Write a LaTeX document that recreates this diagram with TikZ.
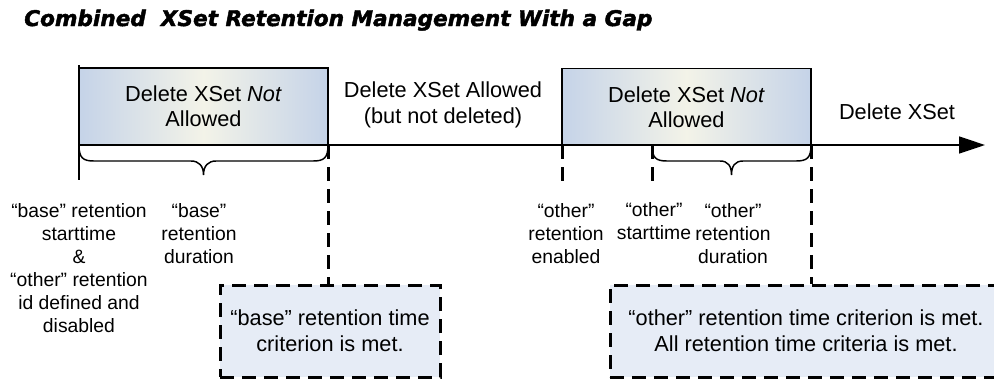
\documentclass[tikz,border=0pt]{standalone}
\usepackage{fontspec}
\setmainfont{Liberation Sans}
\newfontfamily\titlefont{DejaVu Sans}[BoldItalicFeatures={FakeBold=2}]
\usetikzlibrary{arrows.meta}
\definecolor{boxblue}{HTML}{C5D3E8}
\definecolor{boxcream}{HTML}{F3F3E8}
\definecolor{dbfill}{HTML}{E6ECF6}
\tikzset{
  tl/.style={line width=1.1pt},
  dashv/.style={line width=2.25pt, dash pattern=on 10.5pt off 6pt},
  nabox/.style={draw, line width=1.1pt, left color=boxblue, right color=boxblue, middle color=boxcream,
    minimum width=186.75pt, minimum height=57.75pt, inner sep=0pt, align=center,
    font=\fontsize{16.3}{18.75}\selectfont},
  critbox/.style={draw, dashv, fill=dbfill, inner sep=0pt, align=center,
    font=\fontsize{16.3}{19.5}\selectfont},
  toplbl/.style={align=center, inner sep=0pt, font=\fontsize{16.3}{19}\selectfont},
  smalllbl/.style={align=center, inner sep=0pt, font=\fontsize{14.5}{17.25}\selectfont},
  bracep/.style={line width=1.1pt}
}
\begin{document}
\begin{tikzpicture}[x=0.75pt,y=-0.75pt]
\useasboundingbox (0,0) rectangle (994,379);
% title
\node[anchor=base west, inner sep=0pt, font=\titlefont\bfseries\itshape\fontsize{16.2}{19}\selectfont] (title) at (24,26) {Combined\ \ XSet Retention Management With a Gap};
% boxes
\node[nabox] (box1) at (203.5,106.5) {Delete XSet \textit{Not}\\Allowed};
\node[nabox] (box2) at (686.5,107) {Delete XSet \textit{Not}\\Allowed};
% timeline
\coordinate (ts) at (79,145);
\coordinate (te) at (985,145);
\draw[tl, -{Triangle[length=19.5pt, width=12.75pt]}] (ts) -- (te);
\coordinate (lt) at (79,65);
\coordinate (lb) at (79,180);
\draw[tl] (lt) -- (lb);
% braces
\draw[bracep] (79,145) .. controls (79,158) and (83,161) .. (94,161) -- (191,161)
  .. controls (199,161) and (203.5,166) .. (203.5,175)
  .. controls (203.5,166) and (208,161) .. (216,161) -- (313,161)
  .. controls (324,161) and (328,158) .. (328,145);
\draw[bracep] (652,145) .. controls (652,158) and (656,161) .. (667,161) -- (720,161)
  .. controls (728,161) and (731.5,166) .. (731.5,175)
  .. controls (731.5,166) and (735,161) .. (743,161) -- (796,161)
  .. controls (807,161) and (811,158) .. (811,145);
% criterion boxes
\node[critbox, minimum width=165pt, minimum height=69pt] (crit1) at (330,331) {\char"201C base\char"201D\ retention time\\criterion is met.};
\node[critbox, minimum width=294pt, minimum height=69pt] (crit2) at (806,331) {\char"201C other\char"201D\ retention time criterion is met.\\All retention time criteria is met.};
% dashed markers
\coordinate (d1) at (328,145);
\draw[dashv] (d1) -- (d1 |- crit1.north);
\coordinate (d2a) at (562,145);
\coordinate (d2b) at (562,183);
\draw[dashv] (d2a) -- (d2b);
\coordinate (d3a) at (652,145);
\coordinate (d3b) at (652,183);
\draw[dashv] (d3a) -- (d3b);
\coordinate (d4) at (811,145);
\draw[dashv] (d4) -- (d4 |- crit2.north);
% top labels
\node[toplbl] (allowed) at (443,105) {Delete XSet Allowed\\(but not deleted)};
\node[toplbl] (delete) at (897,112) {Delete XSet};
% lower labels
\node[smalllbl] (lbl1) at (79,268.5) {\char"201C base\char"201D\ retention\\starttime\\\&\\\char"201C other\char"201D\ retention\\id defined and\\disabled};
\node[smalllbl] (lbl2) at (199,233.5) {\char"201C base\char"201D\\retention\\duration};
\node[smalllbl] (lbl3) at (566,233.5) {\char"201C other\char"201D\\retention\\enabled};
\node[smalllbl] (lbl4) at (654,221.5) {\char"201C other\char"201D\\starttime};
\node[smalllbl] (lbl5) at (733,233.5) {\char"201C other\char"201D\\retention\\duration};
\end{tikzpicture}
\end{document}
